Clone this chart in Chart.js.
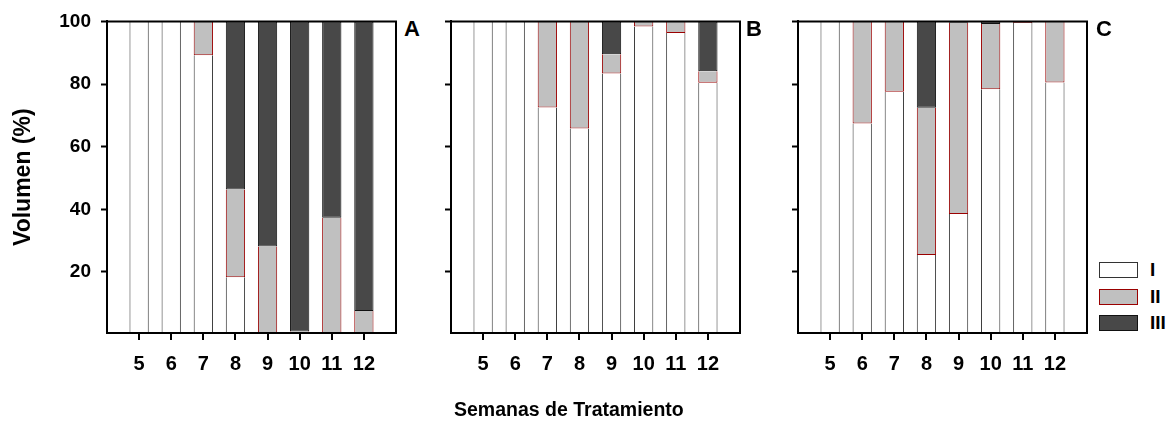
<!DOCTYPE html>
<html>
<head>
<meta charset="utf-8">
<script src="https://cdn.jsdelivr.net/npm/chart.js@4.4.1/dist/chart.umd.min.js"></script>
<style>
  html, body { margin: 0; padding: 0; background: #fff; }
  #wrap { position: relative; width: 1168px; height: 428px; overflow: hidden; font-family: 'Liberation Sans', Arial, sans-serif; font-weight: bold; color: #000; }
  canvas { position: absolute; top: 0; }
  .tag { position: absolute; font-size: 22px; line-height: 1; }
  #xtitle { position: absolute; left: 454px; top: 400px; font-size: 19.5px; line-height: 1; white-space: nowrap; }
  #legend { position: absolute; left: 1099px; top: 262px; }
  .li { display: flex; align-items: center; height: 16px; margin-bottom: 10.5px; font-size: 19px; }
  .li span.box { display: inline-block; width: 37px; height: 14px; margin-right: 12px; }
</style>
</head>
<body>
<div id="wrap">
  <canvas id="panelA" width="400" height="428" style="left:0px"></canvas>
  <canvas id="panelB" width="324" height="428" style="left:420px"></canvas>
  <canvas id="panelC" width="331" height="428" style="left:760px"></canvas>
  <div class="tag" style="left:404px;top:18px">A</div>
  <div class="tag" style="left:746px;top:18px">B</div>
  <div class="tag" style="left:1096px;top:18px">C</div>
  <div id="xtitle">Semanas de Tratamiento</div>
  <div id="legend"></div>
</div>
<script>
// ── Data (volume % per fraction, weeks 5-12) ──
const weeks = [5, 6, 7, 8, 9, 10, 11, 12];
const yTicks = [20, 40, 60, 80, 100];
const seriesNames = ['I', 'II', 'III'];

const aI   = [100, 100, 89.2, 18.3, 0, 0, 0, 0];
const aII  = [0, 0, 10.8, 28.0, 28.1, 1.0, 37.3, 7.5];
const aIII = [0, 0, 0, 53.7, 71.9, 99.0, 62.7, 92.5];

const bI   = [100, 100, 72.5, 65.8, 83.4, 98.4, 96.3, 80.4];
const bII  = [0, 0, 27.5, 34.2, 6.1, 1.6, 3.7, 3.7];
const bIII = [0, 0, 0, 0, 10.5, 0, 0, 15.9];

const cI   = [100, 67.4, 77.5, 25.4, 38.5, 78.3, 99.5, 80.5];
const cII  = [0, 32.6, 22.5, 47.0, 61.1, 20.9, 0.5, 19.5];
const cIII = [0, 0, 0, 27.6, 0.4, 0.8, 0, 0];

// skip: top edge left to the segment above (Chart.js paints dataset 0 last)
const styles = [
  { fill: '#ffffff', border: '#333333', skip: 'end' },
  { fill: '#c0c0c0', border: '#9a0000', skip: 'end' },
  { fill: '#484848', border: '#111111', skip: false }
];

const FONT = "'Liberation Sans', Arial, sans-serif";

// empty slot at each end so the axis runs 4..13
const labels = ['', ...weeks.map(String), ''];
const pad = arr => [null, ...arr, null];

// top and right sides of the frame, plus the x tick marks at each week
const framePlugin = {
  id: 'frame',
  afterDraw(chart) {
    const { ctx, chartArea: a } = chart;
    const xs = chart.scales.x;
    ctx.save();
    ctx.strokeStyle = '#000';
    ctx.lineWidth = 2;
    ctx.beginPath();
    ctx.moveTo(a.left, a.top);
    ctx.lineTo(a.right, a.top);
    ctx.lineTo(a.right, a.bottom);
    ctx.stroke();
    ctx.beginPath();
    xs.ticks.forEach((t, i) => {
      const px = Math.round(xs.getPixelForTick(i));
      ctx.moveTo(px, a.bottom);
      ctx.lineTo(px, a.bottom + 7);
    });
    ctx.stroke();
    ctx.restore();
  }
};

function makePanel(canvasId, series, yWidth, showYLabels) {
  const datasets = series.map((vals, i) => ({
    label: seriesNames[i],
    data: pad(vals),
    backgroundColor: styles[i].fill,
    borderColor: styles[i].border,
    borderWidth: 1,
    borderSkipped: styles[i].skip,
    categoryPercentage: 1,
    barPercentage: 0.6
  }));

  return new Chart(document.getElementById(canvasId), {
    type: 'bar',
    data: { labels, datasets },
    options: {
      responsive: false, animation: false, devicePixelRatio: 1,
      layout: { padding: { left: 0, top: 20, right: 4, bottom: 0 } },
      plugins: { legend: { display: false }, tooltip: { enabled: false } },
      scales: {
        x: {
          stacked: true, offset: false,
          border: { display: true, width: 2, color: '#000', z: 1 },
          // tick marks painted by the frame plugin; tickLength kept for label spacing
          grid: { z: 1, offset: false, drawOnChartArea: false, drawTicks: true, tickLength: 7, tickWidth: 2, tickColor: 'rgba(0,0,0,0)' },
          // only the real weeks get a tick (drop the two empty end slots)
          afterBuildTicks: s => { s.ticks = weeks.map((w, i) => ({ value: i + 1 })); },
          ticks: { color: '#000', padding: 12, maxRotation: 0, font: { family: FONT, size: 20, weight: 'bold' } },
          afterFit: s => { s.height = 428 - 333; }
        },
        y: {
          stacked: true, min: 0.5, max: 100,
          border: { display: true, width: 2, color: '#000', z: 1 },
          grid: { z: 1, drawOnChartArea: false, drawTicks: true, tickLength: 6, tickWidth: 2, tickColor: '#000' },
          afterBuildTicks: s => { s.ticks = yTicks.map(v => ({ value: v })); },
          ticks: {
            color: '#000', padding: 10, font: { family: FONT, size: 19, weight: 'bold' },
            callback: v => showYLabels ? String(v) : ''
          },
          title: {
            display: showYLabels, text: 'Volumen (%)', color: '#000',
            padding: { top: 10, bottom: 0 },
            font: { family: FONT, size: 23, weight: 'bold' }
          },
          afterFit: s => { s.width = yWidth; }
        }
      }
    },
    plugins: [framePlugin]
  });
}

makePanel('panelA', [aI, aII, aIII], 107, true);
makePanel('panelB', [bI, bII, bIII], 31, false);
makePanel('panelC', [cI, cII, cIII], 38, false);

// legend built from the same series styles
const legend = document.getElementById('legend');
seriesNames.forEach((name, i) => {
  const row = document.createElement('div');
  row.className = 'li';
  const box = document.createElement('span');
  box.className = 'box';
  box.style.background = styles[i].fill;
  box.style.border = '1px solid ' + styles[i].border;
  row.appendChild(box);
  row.appendChild(document.createTextNode(name));
  legend.appendChild(row);
});
</script>
</body>
</html>
